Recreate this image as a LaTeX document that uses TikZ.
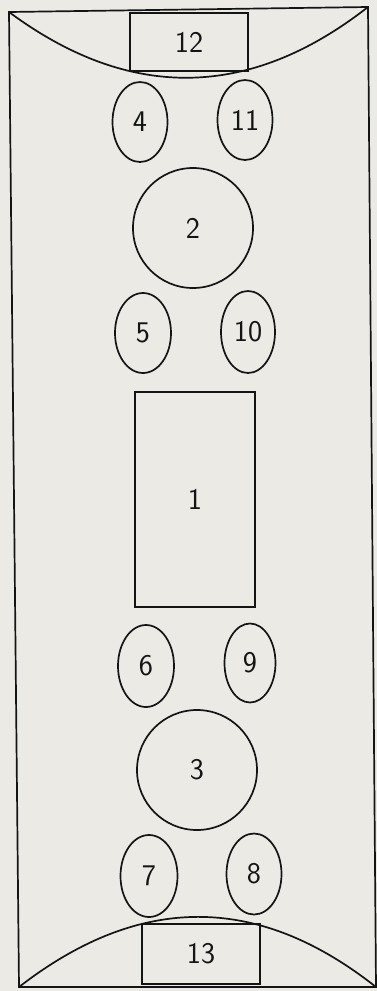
\documentclass[tikz,border=0pt]{standalone}
\usetikzlibrary{shapes.geometric}
\definecolor{paper}{RGB}{236,234,229}
\definecolor{ink}{RGB}{20,20,20}
\tikzset{
  plan/.style={draw=ink, line width=1.7pt},
  lbl/.style={font=\sffamily\fontsize{30}{35}\selectfont, text=ink, inner sep=0pt},
  seat/.style={plan, lbl, shape=ellipse},
  roundtable/.style={plan, lbl, shape=circle, minimum size=120pt},
  box/.style={plan, lbl, shape=rectangle}
}
\begin{document}
\begin{tikzpicture}[x=1pt, y=-1pt]
  \useasboundingbox (0,0) rectangle (377,991);
  \fill[paper] (0,0) rectangle (377,991);
  % frame
  \coordinate (tl) at (9,12);
  \coordinate (tr) at (368,7);
  \coordinate (br) at (376,987);
  \coordinate (bl) at (19,987);
  \draw[plan] (tl) -- (tr) -- (br) -- (bl) -- cycle;
  % arcs
  \draw[plan] (tl) .. controls (129,101) and (249,100) .. (tr);
  \draw[plan] (bl) .. controls (139,894) and (257,893) .. (br);
  % rectangles
  \node[box, minimum width=118pt, minimum height=58pt] (n12) at (189,42) {12};
  \node[box, minimum width=120pt, minimum height=215pt] (n1) at (195,499.5) {1};
  \node[box, minimum width=118pt, minimum height=60pt] (n13) at (201,954) {13};
  % round tables
  \node[roundtable] (n2) at (193,228) {2};
  \node[roundtable] (n3) at (197,770) {3};
  % ellipses
  \node[seat, minimum width=55pt, minimum height=80pt] (n4) at (140,122) {4};
  \node[seat, minimum width=55pt, minimum height=80pt] (n11) at (245,120) {11};
  \node[seat, minimum width=56pt, minimum height=80pt] (n5) at (143,333) {5};
  \node[seat, minimum width=54pt, minimum height=82pt] (n10) at (248,332) {10};
  \node[seat, minimum width=56pt, minimum height=82pt] (n6) at (146,666) {6};
  \node[seat, minimum width=51pt, minimum height=79pt] (n9) at (250,663) {9};
  \node[seat, minimum width=57pt, minimum height=82pt] (n7) at (149,876) {7};
  \node[seat, minimum width=55pt, minimum height=81pt] (n8) at (254,874) {8};
\end{tikzpicture}
\end{document}
